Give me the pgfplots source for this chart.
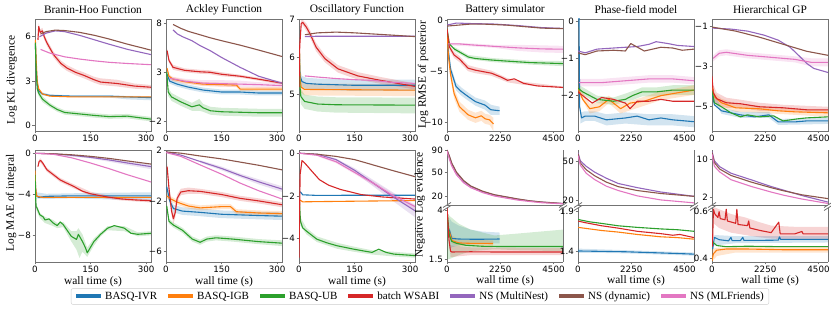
\documentclass[border=0pt]{standalone}
\usepackage{pgfplots}
\pgfplotsset{compat=1.18}
\usepackage{fontspec}
\setmainfont{Liberation Serif}
\newfontfamily\dejavu{DejaVu Sans}
\definecolor{cB}{HTML}{1F77B4}
\definecolor{cO}{HTML}{FF7F0E}
\definecolor{cG}{HTML}{2CA02C}
\definecolor{cR}{HTML}{D62728}
\definecolor{cP}{HTML}{9467BD}
\definecolor{cN}{HTML}{8C564B}
\definecolor{cK}{HTML}{E377C2}
\newcommand\lab{\fontsize{11.4}{13}\selectfont}
\pgfplotsset{
  base/.style={scale only axis, width=116pt, tick pos=left, tick align=outside,
    axis line style={draw=black!55, line width=0.8pt},
    major tick length=2.5pt,
    tick style={draw=black!55, line width=0.7pt},
    ticklabel style={font=\dejavu\fontsize{8.7}{10}\selectfont, text=black},
    xticklabel style={inner sep=1pt}, yticklabel style={inner sep=1.5pt},
    every axis plot/.append style={line width=1.1pt, line join=round},
    anchor=north west},
  tx/.style={xmin=0,xmax=313,xtick={0,150,300},xticklabels={0,150,300}},
  rx/.style={xmin=0,xmax=4900,xtick={0,2250,4500},xticklabels={0,2250,4500}},
  band/.style={fill=#1, fill opacity=0.2, draw=none},
  upper/.style={base, height=55pt, xtick=\empty, axis x line*=top, axis y line*=box, axis line style={-},
    y coord trafo/.code={\pgfmathparse{sqrt(##1)}}},
  lower/.style={base, height=54pt, rx, axis x line*=bottom, axis y line*=box, axis line style={-}},
}
\begin{document}
\begin{tikzpicture}
\path[use as bounding box] (0,0) rectangle (831pt,313pt);
% ---------- P1 Branin KL
\begin{axis}[base, tx, height=112pt, at={(35pt,294pt)}, ymin=-0.35, ymax=7.2, ytick={0,3,6}, yticklabels={0,3,6}]
\addplot[band=cB] coordinates {(1,5.7)(3,4.2)(6,2.95)(10,2.45)(20,2.25)(40,2.12)(100,2.05)(200,2.05)(250,2.02)(313,2.0)(313,1.72)(250,1.78)(200,1.9)(100,1.95)(40,1.97)(20,2.05)(10,2.25)(6,2.65)(3,3.8)(1,5.3)} -- cycle;
\addplot[band=cG] coordinates {(1,5.8)(3,4.0)(6,2.7)(10,2.4)(20,2.0)(40,1.55)(60,1.25)(80,1.05)(120,0.95)(160,0.85)(200,0.77)(250,0.8)(280,0.7)(313,0.6)(313,0.3)(280,0.4)(250,0.5)(200,0.47)(160,0.55)(120,0.65)(80,0.75)(60,0.95)(40,1.25)(20,1.6)(10,2.0)(6,2.3)(3,3.6)(1,5.4)} -- cycle;
\addplot[band=cR] coordinates {(8,6.0)(10,6.9)(14,6.5)(20,6.6)(25,6.2)(32,5.8)(50,5.0)(70,4.4)(86,4.1)(110,3.8)(132,3.6)(160,3.3)(177,3.2)(222,3.1)(268,2.85)(313,2.75)(313,2.45)(268,2.5)(222,2.65)(177,2.75)(160,2.9)(132,3.2)(110,3.4)(86,3.7)(70,4.0)(50,4.6)(32,5.4)(25,5.8)(20,6.2)(14,6.1)(10,6.5)(8,5.6)} -- cycle;
\addplot[cB] coordinates {(1,5.5)(3,4.0)(6,2.8)(10,2.35)(20,2.15)(40,2.05)(100,2.0)(200,2.0)(250,1.95)(313,1.9)};
\addplot[cO] coordinates {(1,5.8)(3,4.5)(6,3.0)(10,2.5)(20,2.15)(40,2.0)(100,1.95)(200,1.95)(313,1.95)};
\addplot[cG] coordinates {(1,5.6)(3,3.8)(6,2.5)(10,2.2)(20,1.8)(40,1.4)(60,1.1)(80,0.9)(120,0.8)(160,0.7)(200,0.62)(250,0.65)(280,0.55)(313,0.45)};
\addplot[cR] coordinates {(8,5.8)(10,6.7)(14,6.3)(20,6.4)(25,6.0)(32,5.6)(50,4.8)(70,4.2)(86,3.9)(110,3.6)(132,3.4)(160,3.1)(177,2.95)(222,2.85)(268,2.68)(313,2.6)};
\addplot[cP] coordinates {(12,6.0)(30,6.25)(55,6.4)(80,6.35)(120,6.1)(160,5.8)(200,5.5)(250,5.15)(313,4.8)};
\addplot[cN] coordinates {(15,6.2)(30,6.35)(55,6.45)(80,6.42)(120,6.3)(160,6.1)(200,5.85)(250,5.5)(313,5.1)};
\addplot[cK] coordinates {(15,5.15)(40,4.9)(80,4.65)(120,4.5)(160,4.38)(200,4.28)(250,4.2)(313,4.12)};
\end{axis}
% ---------- P2 Ackley KL
\begin{axis}[base, tx, height=112pt, at={(166pt,294pt)}, ymin=-2.95, ymax=8.4, ytick={-2,3,8}, yticklabels={−2,3,8}]
\addplot[band=cG] coordinates {(2,3.3)(6,1.4)(15,0.9)(40,0.4)(70,-0.1)(90,0.3)(100,-0.2)(120,-0.5)(150,-0.6)(200,-0.65)(250,-0.7)(313,-0.7)(313,-1.5)(250,-1.5)(200,-1.45)(150,-1.4)(120,-1.3)(100,-1.0)(90,-0.9)(70,-0.9)(40,-0.4)(15,0.1)(6,0.6)(2,2.7)} -- cycle;
\addplot[band=cK] coordinates {(10,2.6)(50,2.35)(100,2.2)(150,2.2)(200,2.15)(250,2.0)(313,1.9)(313,1.45)(250,1.45)(200,1.5)(150,1.55)(100,1.65)(50,1.9)(10,2.2)} -- cycle;
\addplot[band=cB] coordinates {(3,3.1)(10,2.35)(30,2.05)(60,1.75)(100,1.45)(150,1.25)(200,1.25)(250,1.15)(313,1.15)(313,0.65)(250,0.65)(200,0.75)(150,0.75)(100,0.95)(60,1.25)(30,1.55)(10,1.85)(3,2.5)} -- cycle;
\addplot[band=cO] coordinates {(3,3.6)(8,2.8)(19,2.5)(50,2.25)(100,2.0)(150,1.95)(190,1.95)(200,1.5)(250,1.5)(313,1.5)(313,1.1)(250,1.1)(200,1.1)(190,1.5)(150,1.55)(100,1.6)(50,1.85)(19,2.1)(8,2.4)(3,3.2)} -- cycle;
\addplot[band=cR] coordinates {(3,5.4)(8,4.4)(19,3.75)(50,3.4)(92,3.25)(119,3.2)(150,3.0)(200,2.75)(250,2.45)(313,2.05)(313,1.75)(250,2.15)(200,2.45)(150,2.6)(119,2.8)(92,2.85)(50,3.0)(19,3.25)(8,4.0)(3,5.0)} -- cycle;
\addplot[cB] coordinates {(3,2.8)(10,2.1)(30,1.8)(60,1.5)(100,1.2)(150,1.0)(200,1.0)(250,0.9)(313,0.9)};
\addplot[cO] coordinates {(3,3.4)(8,2.6)(19,2.3)(50,2.05)(100,1.8)(150,1.75)(190,1.7)(200,1.3)(250,1.3)(313,1.3)};
\addplot[cG] coordinates {(2,3.0)(6,1.0)(15,0.5)(40,0.0)(70,-0.5)(90,-0.3)(100,-0.6)(120,-0.9)(150,-1.0)(200,-1.05)(250,-1.1)(313,-1.1)};
\addplot[cR] coordinates {(3,5.2)(8,4.2)(19,3.5)(50,3.2)(92,3.05)(119,3.0)(150,2.8)(200,2.6)(250,2.3)(313,1.9)};
\addplot[cP] coordinates {(19,7.3)(30,6.9)(45,6.6)(70,6.2)(92,5.7)(119,5.2)(150,4.5)(200,3.5)(250,2.6)(313,1.9)};
\addplot[cN] coordinates {(19,7.85)(40,7.45)(60,7.15)(92,6.8)(119,6.5)(150,6.2)(200,5.75)(250,5.25)(313,4.6)};
\addplot[cK] coordinates {(10,2.4)(50,2.1)(100,1.9)(150,1.85)(200,1.8)(250,1.75)(313,1.65)};
\end{axis}
% ---------- P3 Oscillatory KL
\begin{axis}[base, tx, height=112pt, at={(299pt,294pt)}, ymin=4.03, ymax=7.02, ytick={5,6,7}, yticklabels={5,6,7}]
\addplot[band=cG] coordinates {(1,6.4)(2,5.5)(5,5.15)(15,5.0)(50,4.95)(100,4.93)(313,4.92)(313,4.5)(100,4.52)(50,4.55)(15,4.62)(5,4.75)(2,5.1)(1,6.2)} -- cycle;
\addplot[band=cO] coordinates {(1,6.3)(3,5.55)(6,5.35)(15,5.3)(313,5.28)(313,4.96)(15,4.98)(6,5.05)(3,5.25)(1,6.1)} -- cycle;
\addplot[band=cB] coordinates {(1,6.1)(3,5.65)(8,5.5)(20,5.45)(50,5.43)(150,5.4)(313,5.4)(313,5.1)(150,5.1)(50,5.13)(20,5.15)(8,5.2)(3,5.35)(1,5.9)} -- cycle;
\addplot[band=cR] coordinates {(2,6.4)(6,6.98)(10,7.0)(20,6.9)(30,6.72)(46,6.38)(70,6.06)(105,5.79)(159,5.6)(221,5.47)(313,5.3)(313,5.14)(221,5.29)(159,5.4)(105,5.59)(70,5.86)(46,6.16)(30,6.52)(20,6.7)(10,6.86)(6,6.82)(2,6.2)} -- cycle;
\addplot[cB] coordinates {(1,6.0)(3,5.5)(8,5.35)(20,5.3)(50,5.28)(150,5.25)(250,5.25)(313,5.25)};
\addplot[cO] coordinates {(1,6.2)(3,5.4)(6,5.2)(15,5.14)(313,5.12)};
\addplot[cG] coordinates {(1,6.3)(2,5.3)(5,4.95)(15,4.82)(50,4.75)(100,4.73)(313,4.72)};
\addplot[cR] coordinates {(0,5.2)(2,6.3)(6,6.9)(10,6.93)(20,6.8)(30,6.62)(46,6.27)(70,5.96)(105,5.69)(159,5.5)(221,5.38)(313,5.22)};
\addplot[cP] coordinates {(16,6.55)(50,6.56)(100,6.56)(200,6.56)(313,6.56)};
\addplot[cN] coordinates {(16,6.6)(50,6.65)(100,6.67)(150,6.65)(200,6.62)(250,6.59)(313,6.55)};
\addplot[cK] coordinates {(16,5.5)(50,5.47)(100,5.43)(150,5.4)(200,5.38)(250,5.33)(313,5.3)};
\end{axis}
% ---------- P4 Battery RMSE
\begin{axis}[base, rx, height=112pt, at={(447pt,294pt)}, ymin=-10.9, ymax=0.15, ytick={-10,-5,0}, yticklabels={−10,−5,0}]
\addplot[band=cB] coordinates {(60,-2.6)(150,-4.4)(380,-6.1)(600,-6.6)(890,-7.1)(1200,-7.6)(1610,-7.9)(1850,-8.3)(2020,-8.4)(2220,-8.5)(2220,-9.3)(2020,-9.3)(1850,-9.3)(1610,-8.8)(1200,-8.4)(890,-7.9)(600,-7.4)(380,-6.9)(150,-5.2)(60,-3.4)} -- cycle;
\addplot[band=cO] coordinates {(60,-3.1)(150,-4.8)(300,-6.7)(525,-8.0)(890,-8.8)(1200,-9.1)(1450,-8.9)(1610,-9.2)(1800,-9.3)(1960,-9.6)(1960,-10.9)(1800,-10.3)(1610,-10.2)(1450,-9.9)(1200,-10.1)(890,-9.8)(525,-9.0)(300,-7.7)(150,-5.8)(60,-3.9)} -- cycle;
\addplot[band=cR] coordinates {(100,-2.3)(300,-3.1)(525,-3.5)(890,-4.4)(1200,-4.6)(1880,-4.95)(2560,-5.7)(3240,-6.05)(4900,-6.5)(4900,-6.7)(3240,-6.35)(2560,-6.1)(1880,-5.45)(1200,-5.2)(890,-5.0)(525,-4.1)(300,-3.7)(100,-2.9)} -- cycle;
\addplot[band=cG] coordinates {(300,-2.6)(900,-3.4)(1900,-3.7)(3500,-3.95)(4900,-4.0)(4900,-4.5)(3500,-4.35)(1900,-4.1)(900,-3.8)(300,-3.0)} -- cycle;
\addplot[band=cK] coordinates {(50,-2.2)(1000,-2.25)(2000,-2.4)(3000,-2.4)(4000,-2.45)(4900,-2.5)(4900,-3.2)(4000,-3.15)(3000,-3.0)(2000,-2.7)(1000,-2.55)(50,-2.45)} -- cycle;
\addplot[cB] coordinates {(0,-0.8)(60,-3)(150,-4.8)(380,-6.5)(600,-7.0)(890,-7.5)(1200,-8.0)(1610,-8.35)(1850,-8.8)(2020,-8.85)(2220,-8.9)};
\addplot[cO] coordinates {(0,-0.8)(60,-3.5)(150,-5.3)(300,-7.2)(525,-8.5)(890,-9.3)(1200,-9.6)(1450,-9.4)(1610,-9.7)(1800,-9.8)(1960,-10.2)};
\addplot[cG] coordinates {(0,-0.8)(100,-2.3)(300,-2.8)(600,-3.2)(900,-3.6)(1200,-3.75)(1900,-3.9)(2500,-4.0)(3500,-4.15)(4900,-4.25)};
\addplot[cR] coordinates {(0,-0.8)(100,-2.6)(300,-3.4)(525,-3.8)(890,-4.7)(1200,-4.9)(1880,-5.2)(2300,-5.6)(2560,-5.9)(2840,-5.75)(3240,-6.2)(3800,-6.45)(4900,-6.6)};
\addplot[cP] coordinates {(0,-0.45)(400,-0.25)(1000,-0.3)(2000,-0.35)(3000,-0.5)(4000,-0.7)(4900,-0.78)};
\addplot[cN] coordinates {(0,-0.55)(500,-0.45)(1000,-0.35)(1500,-0.35)(2000,-0.4)(2500,-0.45)(3000,-0.55)(3500,-0.65)(4000,-0.75)(4900,-0.8)};
\addplot[cK] coordinates {(50,-2.3)(500,-2.3)(1000,-2.4)(2000,-2.55)(3000,-2.7)(4000,-2.8)(4900,-2.83)};
\end{axis}
% ---------- P5 Phase-field RMSE
\begin{axis}[base, rx, height=112pt, at={(578pt,294pt)}, ymin=-2.95, ymax=0.06, ytick={-2,-1,0}, yticklabels={−2,−1,0}]
\addplot[band=cB] coordinates {(100,-2.45)(300,-2.42)(700,-2.42)(1200,-2.5)(2000,-2.45)(3000,-2.5)(4000,-2.5)(4900,-2.55)(4900,-2.85)(4000,-2.8)(3000,-2.8)(2000,-2.75)(1200,-2.8)(700,-2.68)(300,-2.68)(100,-2.75)} -- cycle;
\addplot[band=cK] coordinates {(50,-1.55)(1000,-1.55)(2000,-1.5)(3000,-1.45)(4000,-1.45)(4900,-1.5)(4900,-1.7)(4000,-1.65)(3000,-1.65)(2000,-1.7)(1000,-1.75)(50,-1.75)} -- cycle;
\addplot[band=cG] coordinates {(0,-1.7)(800,-2.0)(1500,-2.05)(2300,-1.88)(2700,-1.78)(3300,-1.78)(4000,-1.72)(4900,-1.72)(4900,-1.98)(4000,-1.98)(3300,-2.02)(2700,-2.02)(2300,-2.12)(1500,-2.25)(800,-2.2)(0,-1.9)} -- cycle;
\addplot[band=cO] coordinates {(0,-1.7)(500,-2.22)(900,-2.18)(1300,-2.0)(1800,-2.22)(2800,-2.03)(3500,-1.88)(4900,-1.72)(4900,-1.98)(3500,-2.12)(2800,-2.27)(1800,-2.48)(1300,-2.2)(900,-2.42)(500,-2.48)(0,-1.9)} -- cycle;
\addplot[cB] coordinates {(0,0.2)(40,0.2)(70,-2.3)(150,-2.6)(300,-2.55)(700,-2.55)(1200,-2.65)(2000,-2.6)(2500,-2.55)(3000,-2.65)(3500,-2.6)(4000,-2.65)(4900,-2.7)};
\addplot[cO] coordinates {(0,-1.8)(200,-2.1)(500,-2.35)(900,-2.3)(1300,-2.1)(1800,-2.35)(2200,-2.2)(2800,-2.15)(3500,-2.0)(4900,-1.85)};
\addplot[cG] coordinates {(0,-1.8)(200,-1.9)(800,-2.1)(1500,-2.15)(2000,-2.1)(2300,-2.0)(2700,-1.9)(3300,-1.9)(4000,-1.85)(4900,-1.85)};
\addplot[cR] coordinates {(0,-1.9)(200,-2.0)(600,-2.2)(1000,-2.05)(1500,-2.1)(2000,-2.2)(2200,-2.35)(2500,-2.15)(3000,-2.15)(3500,-2.1)(4000,-2.15)(4900,-2.15)};
\addplot[cP] coordinates {(0,-0.8)(300,-0.85)(800,-0.75)(1500,-0.72)(2000,-0.7)(2500,-0.68)(3000,-0.62)(3300,-0.55)(3800,-0.6)(4200,-0.65)(4900,-0.68)};
\addplot[cN] coordinates {(0,-0.85)(300,-0.9)(800,-0.8)(1500,-0.78)(2000,-0.8)(2230,-0.6)(2800,-0.8)(3500,-0.7)(4000,-0.72)(4400,-0.78)(4900,-0.75)};
\addplot[cK] coordinates {(50,-1.65)(1000,-1.65)(2000,-1.6)(3000,-1.55)(4000,-1.55)(4900,-1.6)};
\end{axis}
% ---------- P6 Hierarchical RMSE
\begin{axis}[base, rx, height=112pt, at={(712pt,294pt)}, ymin=-6.2, ymax=-0.65, ytick={-5,-3,-1}, yticklabels={−5,−3,−1}]
\addplot[band=cK] coordinates {(50,-2.45)(300,-2.2)(600,-2.15)(1500,-2.3)(2500,-2.4)(3500,-2.5)(4200,-2.6)(4900,-2.6)(4900,-3.0)(4200,-3.0)(3500,-2.8)(2500,-2.7)(1500,-2.6)(600,-2.45)(300,-2.5)(50,-2.75)} -- cycle;
\addplot[band=cR] coordinates {(0,-3.0)(50,-3.9)(200,-4.3)(600,-4.55)(1200,-4.65)(2000,-4.8)(3000,-4.9)(4900,-5.0)(4900,-5.3)(3000,-5.2)(2000,-5.2)(1200,-5.05)(600,-5.05)(200,-4.9)(50,-4.7)(0,-4.0)} -- cycle;
\addplot[band=cO] coordinates {(0,-3.7)(100,-4.3)(400,-4.6)(1000,-4.85)(2000,-4.95)(3500,-5.1)(4900,-5.15)(4900,-5.5)(3500,-5.4)(2000,-5.3)(1000,-5.25)(400,-5.0)(100,-4.7)(0,-4.3)} -- cycle;
\addplot[band=cB] coordinates {(0,-4.1)(400,-5.05)(1200,-5.25)(2400,-5.25)(2800,-5.6)(4900,-5.55)(4900,-5.85)(2800,-5.9)(2400,-5.55)(1200,-5.55)(400,-5.35)(0,-4.5)} -- cycle;
\addplot[cB] coordinates {(0,-4.3)(100,-4.9)(400,-5.2)(800,-5.3)(1200,-5.4)(1800,-5.5)(2400,-5.4)(2800,-5.75)(3500,-5.75)(4000,-5.7)(4900,-5.7)};
\addplot[cO] coordinates {(0,-4.0)(100,-4.5)(400,-4.8)(1000,-5.05)(2000,-5.1)(2800,-5.2)(3500,-5.25)(4900,-5.3)};
\addplot[cG] coordinates {(0,-4.2)(100,-4.8)(400,-5.0)(800,-5.3)(1200,-5.5)(1500,-5.4)(2000,-5.5)(2600,-5.45)(3000,-5.7)(3600,-5.6)(4000,-5.55)(4900,-5.5)};
\addplot[cR] coordinates {(0,-3.5)(50,-4.3)(200,-4.6)(600,-4.8)(1200,-4.85)(2000,-5.0)(3000,-5.05)(4000,-5.15)(4900,-5.15)};
\addplot[cP] coordinates {(0,-1.1)(800,-1.15)(1500,-1.25)(2200,-1.45)(2800,-1.7)(3300,-2.05)(3700,-2.5)(4000,-2.85)(4300,-3.1)(4900,-3.3)};
\addplot[cN] coordinates {(0,-1.05)(1000,-1.25)(2000,-1.55)(3000,-1.9)(4000,-2.25)(4900,-2.45)};
\addplot[cK] coordinates {(50,-2.6)(300,-2.35)(600,-2.3)(1500,-2.45)(2500,-2.55)(3500,-2.65)(4200,-2.8)(4900,-2.8)};
\end{axis}
% ---------- P7 Branin MAE
\begin{axis}[base, tx, height=112pt, at={(35pt,163pt)}, ymin=-10.6, ymax=0.32, ytick={-8,-4,0}, yticklabels={−8,−4,0}]
\addplot[band=cG] coordinates {(0,-1.9)(3,-4.9)(13,-5.8)(27,-6.2)(49,-6.5)(60,-6.8)(76,-6.7)(98,-7.6)(112,-7.6)(117,-7.3)(128,-7.9)(141,-9.2)(159,-8.3)(177,-7.7)(196,-7.1)(241,-7.1)(277,-7.7)(313,-7.6)(313,-8.0)(277,-8.1)(241,-7.6)(196,-7.5)(177,-8.1)(159,-9.0)(141,-10.1)(128,-9.6)(120,-10.2)(112,-9.4)(98,-8.6)(76,-7.2)(60,-7.3)(49,-7.1)(27,-6.8)(13,-6.3)(3,-5.5)(0,-2.3)} -- cycle;
\addplot[band=cB] coordinates {(3,-3.8)(30,-3.95)(100,-3.9)(200,-3.85)(313,-3.8)(313,-4.6)(200,-4.5)(100,-4.4)(30,-4.45)(3,-4.4)} -- cycle;
\addplot[band=cR] coordinates {(11,-0.6)(15,-0.5)(32,-1.4)(68,-2.4)(103,-3.0)(150,-3.75)(196,-4.1)(232,-4.3)(313,-4.5)(313,-4.8)(232,-4.6)(196,-4.45)(150,-4.15)(103,-3.4)(68,-2.8)(32,-1.8)(15,-0.9)(11,-1.0)} -- cycle;
\addplot[band=cP] coordinates {(50,-0.05)(150,-0.3)(250,-0.8)(313,-1.1)(313,-1.55)(250,-1.15)(150,-0.5)(50,-0.15)} -- cycle;
\addplot[cB] coordinates {(1,-3)(3,-4.1)(10,-4.3)(30,-4.2)(100,-4.15)(200,-4.15)(313,-4.15)};
\addplot[cO] coordinates {(0,-1.7)(2,-3.5)(5,-4.2)(20,-4.3)(100,-4.3)(200,-4.3)(313,-4.3)};
\addplot[cG] coordinates {(0,-2.1)(2,-4.5)(3,-5.2)(5,-5.3)(13,-6.0)(22,-6.2)(27,-6.5)(38,-6.4)(49,-6.8)(60,-7.05)(68,-6.7)(76,-6.95)(98,-8.1)(112,-8.4)(117,-7.9)(128,-8.6)(136,-9.2)(141,-9.7)(146,-9.4)(159,-8.6)(177,-7.9)(196,-7.3)(214,-7.05)(241,-7.3)(259,-7.8)(277,-7.9)(313,-7.8)};
\addplot[cR] coordinates {(8,-1.3)(11,-0.8)(15,-0.7)(20,-0.9)(32,-1.6)(50,-2.1)(68,-2.6)(85,-2.9)(103,-3.2)(128,-3.7)(150,-3.95)(196,-4.27)(232,-4.45)(270,-4.55)(313,-4.63)};
\addplot[cP] coordinates {(0,0)(50,-0.05)(100,-0.2)(150,-0.4)(200,-0.65)(250,-0.95)(313,-1.3)};
\addplot[cN] coordinates {(0,0)(50,-0.05)(100,-0.15)(150,-0.3)(200,-0.5)(250,-0.75)(313,-1.05)};
\addplot[cK] coordinates {(0,0)(50,-0.1)(100,-0.45)(150,-0.95)(200,-1.5)(250,-2.1)(313,-2.8)};
\end{axis}
% ---------- P8 Ackley MAE
\begin{axis}[base, tx, height=112pt, at={(166pt,163pt)}, ymin=-6.8, ymax=2.0, ytick={-6,-2,2}, yticklabels={−6,−2,2}]
\addplot[band=cB] coordinates {(2,-0.6)(10,-1.7)(20,-2.3)(44,-2.5)(92,-2.6)(150,-2.75)(200,-2.8)(250,-2.85)(313,-2.9)(313,-3.5)(250,-3.45)(200,-3.4)(150,-3.35)(92,-3.2)(44,-3.1)(20,-2.9)(10,-2.3)(2,-1.2)} -- cycle;
\addplot[band=cO] coordinates {(2,-1.4)(10,-1.6)(30,-1.9)(60,-2.2)(92,-2.35)(150,-2.25)(174,-2.25)(190,-2.65)(250,-2.75)(313,-2.8)(313,-3.2)(250,-3.15)(190,-3.05)(174,-2.65)(150,-2.65)(92,-2.75)(60,-2.6)(30,-2.3)(10,-2.0)(2,-1.8)} -- cycle;
\addplot[band=cG] coordinates {(2,-2.2)(8,-3.4)(20,-3.7)(44,-4.1)(71,-4.8)(92,-5.05)(110,-4.8)(135,-4.7)(180,-4.8)(250,-5.0)(313,-5.1)(313,-5.55)(250,-5.4)(180,-5.2)(135,-5.1)(110,-5.2)(92,-5.45)(71,-5.2)(44,-4.5)(20,-4.1)(8,-3.8)(2,-2.6)} -- cycle;
\addplot[band=cR] coordinates {(3,1.0)(8,-0.7)(15,-2.5)(20,-3.0)(25,-2.5)(30,-1.5)(40,-1.05)(60,-0.95)(92,-1.05)(150,-1.3)(200,-1.6)(250,-1.8)(313,-2.1)(313,-2.5)(250,-2.2)(200,-2.0)(150,-1.7)(92,-1.45)(60,-1.45)(40,-1.55)(30,-2.1)(25,-3.3)(20,-3.8)(15,-3.1)(8,-1.3)(3,0.4)} -- cycle;
\addplot[band=cP] coordinates {(92,1.2)(150,0.7)(200,0.15)(250,-0.3)(313,-0.85)(313,-1.3)(250,-0.7)(200,-0.15)(150,0.4)(92,1.0)} -- cycle;
\addplot[cB] coordinates {(2,-0.9)(10,-2.0)(20,-2.6)(44,-2.8)(92,-2.9)(150,-3.05)(200,-3.1)(250,-3.15)(313,-3.2)};
\addplot[cO] coordinates {(2,-1.6)(10,-1.8)(30,-2.1)(60,-2.4)(92,-2.55)(150,-2.45)(174,-2.45)(190,-2.85)(250,-2.95)(313,-3.0)};
\addplot[cG] coordinates {(2,-2.4)(8,-3.6)(20,-3.9)(44,-4.3)(71,-5.0)(92,-5.25)(110,-5.0)(135,-4.9)(180,-5.0)(250,-5.2)(313,-5.32)};
\addplot[cR] coordinates {(3,0.7)(8,-1.0)(15,-2.8)(20,-3.4)(25,-2.9)(30,-1.8)(40,-1.3)(60,-1.2)(92,-1.25)(150,-1.5)(200,-1.8)(250,-2.0)(313,-2.3)};
\addplot[cP] coordinates {(0,1.85)(40,1.6)(92,1.1)(150,0.55)(200,0.0)(250,-0.5)(313,-1.07)};
\addplot[cN] coordinates {(0,1.85)(40,1.75)(92,1.53)(150,1.3)(200,1.05)(250,0.8)(313,0.44)};
\addplot[cK] coordinates {(0,1.8)(40,1.5)(92,0.83)(150,0.1)(200,-0.6)(250,-1.2)(313,-1.85)};
\end{axis}
% ---------- P9 Oscillatory MAE
\begin{axis}[base, tx, height=112pt, at={(299pt,163pt)}, ymin=-5.1, ymax=0.15, ytick={-4,-2,0}, yticklabels={−4,−2,0}]
\addplot[band=cP] coordinates {(50,-0.03)(100,-0.25)(150,-0.7)(200,-1.25)(250,-1.8)(313,-2.45)(313,-3.0)(250,-2.2)(200,-1.55)(150,-0.9)(100,-0.35)(50,-0.07)} -- cycle;
\addplot[band=cK] coordinates {(50,-0.05)(100,-0.33)(150,-0.82)(200,-1.3)(250,-1.85)(313,-2.4)(313,-2.65)(250,-2.05)(200,-1.5)(150,-0.98)(100,-0.47)(50,-0.15)} -- cycle;
\addplot[band=cG] coordinates {(4,-3.0)(20,-3.5)(48,-3.9)(103,-4.2)(148,-4.38)(197,-4.55)(256,-4.62)(313,-4.7)(313,-4.9)(256,-4.84)(197,-4.75)(148,-4.62)(103,-4.48)(48,-4.16)(20,-3.8)(4,-3.4)} -- cycle;
\addplot[cB] coordinates {(3,-1.8)(10,-1.95)(50,-1.98)(150,-1.97)(313,-1.97)};
\addplot[cO] coordinates {(3,-2.2)(10,-2.28)(50,-2.27)(150,-2.25)(313,-2.22)};
\addplot[cG] coordinates {(1,-2.2)(4,-3.2)(10,-3.5)(20,-3.65)(48,-4.03)(75,-4.2)(103,-4.34)(148,-4.5)(180,-4.6)(197,-4.65)(215,-4.5)(235,-4.65)(256,-4.73)(313,-4.8)};
\addplot[cR] coordinates {(0,-4.9)(3,-1.0)(8,-0.35)(12,-0.4)(20,-0.55)(35,-0.85)(55,-1.24)(80,-1.5)(112,-1.7)(168,-1.94)(224,-2.05)(270,-2.1)(313,-2.15)};
\addplot[cP] coordinates {(0,0)(50,-0.05)(100,-0.3)(150,-0.8)(200,-1.4)(250,-2.0)(313,-2.7)};
\addplot[cN] coordinates {(0,0)(50,-0.05)(100,-0.15)(150,-0.3)(200,-0.55)(250,-0.8)(313,-1.1)};
\addplot[cK] coordinates {(0,0)(50,-0.1)(100,-0.4)(150,-0.9)(200,-1.4)(250,-1.95)(313,-2.5)};
\end{axis}
% ---------- P10 Battery evidence
\begin{axis}[upper, at={(447pt,163pt)}, xmin=0, xmax=4900, ymin=12.2, ymax=90, ytick={20,50,90}, yticklabels={20,50,90}]
\addplot[cP] coordinates {(0,90)(100,77)(200,64)(400,49)(700,37)(1000,30.5)(1500,24.5)(2000,21)(2500,19)(3000,17)(3500,15.5)(4000,14.5)(4900,13.3)};
\addplot[cN] coordinates {(0,90)(100,78)(200,65)(400,50)(700,38)(1000,31)(1500,25)(2000,21.3)(2500,19.2)(3000,17.2)(3500,15.6)(4000,14.6)(4900,13.4)};
\addplot[cK] coordinates {(0,88)(100,72)(200,60)(400,46)(700,35)(1000,29)(1500,23.5)(2000,20)(2500,18)(3000,16.2)(3500,15)(4000,14)(4900,13.1)};
\end{axis}
\begin{axis}[lower, at={(447pt,105pt)}, ymin=1.35, ymax=4.1, ytick={1.5,4}, yticklabels={1.5,4}]
\addplot[band=cB] coordinates {(100,3.6)(200,3.4)(500,3.2)(1000,3.0)(1500,2.9)(2220,2.85)(2220,2.3)(1500,2.3)(1000,2.25)(500,2.2)(200,2.1)(100,2.0)} -- cycle;
\addplot[band=cG] coordinates {(0,3.9)(100,3.7)(200,3.6)(500,3.3)(1000,3.0)(2000,2.7)(3000,2.8)(4900,3.0)(4900,1.9)(3000,1.95)(2000,2.0)(1000,1.9)(500,1.7)(200,1.55)(100,1.5)(0,1.5)} -- cycle;
\addplot[band=cO] coordinates {(100,3.1)(200,2.7)(500,2.5)(1950,2.45)(1950,2.15)(500,2.17)(200,2.25)(100,2.7)} -- cycle;
\addplot[band=cR] coordinates {(0,4.1)(150,2.2)(1000,2.1)(4900,2.05)(4900,1.7)(1000,1.7)(150,1.6)(0,3.5)} -- cycle;
\addplot[cB] coordinates {(100,3.0)(200,2.55)(500,2.52)(1000,2.51)(1500,2.51)(2220,2.52)};
\addplot[cO] coordinates {(100,2.9)(200,2.45)(500,2.32)(1000,2.3)(1500,2.3)(1950,2.29)};
\addplot[cG] coordinates {(0,4.0)(100,2.7)(200,2.4)(400,2.3)(800,2.2)(1500,2.15)(2200,2.14)(4900,2.14)};
\addplot[cR] coordinates {(0,4.1)(30,3.6)(80,2.5)(150,1.9)(200,1.86)(1000,1.87)(2000,1.86)(3000,1.86)(4900,1.86)};
\end{axis}
% ---------- P11 Phase-field evidence
\begin{axis}[upper, at={(578pt,163pt)}, xmin=0, xmax=4900, ymin=17.1, ymax=60.8, ytick={20,50}, yticklabels={20,50}]
\addplot[cP] coordinates {(0,58)(100,50)(350,45)(700,40)(1200,35)(1700,31)(2500,28)(3500,25)(4900,22.2)};
\addplot[cN] coordinates {(0,57)(100,48)(350,42)(700,37)(1200,32)(1700,28.7)(2500,26)(3500,24)(4900,22.2)};
\addplot[cK] coordinates {(0,55)(100,46)(350,39)(700,34)(1200,29)(1700,26)(2500,22.5)(3500,20)(4900,18.3)};
\end{axis}
\begin{axis}[lower, at={(578pt,105pt)}, ymin=1.26, ymax=1.946, ytick={1.4,1.9}, yticklabels={1.4,1.9}]
\addplot[band=cB] coordinates {(0,1.43)(1000,1.42)(2000,1.41)(3000,1.4)(4000,1.39)(4900,1.38)(4900,1.34)(4000,1.35)(3000,1.36)(2000,1.37)(1000,1.375)(0,1.375)} -- cycle;
\addplot[cB] coordinates {(0,1.40)(1000,1.395)(2000,1.39)(3000,1.38)(4000,1.37)(4900,1.36)};
\addplot[cO] coordinates {(0,1.7)(500,1.68)(1000,1.66)(1700,1.64)(2500,1.61)(3500,1.58)(4200,1.57)(4900,1.55)};
\addplot[cG] coordinates {(0,1.8)(500,1.77)(1000,1.75)(1700,1.72)(2500,1.7)(3500,1.68)(4200,1.67)(4900,1.65)};
\addplot[cR] coordinates {(0,1.78)(300,1.76)(1000,1.72)(1700,1.69)(2500,1.65)(3500,1.62)(4000,1.6)(4300,1.61)(4900,1.57)};
\end{axis}
% ---------- P12 Hierarchical evidence
\begin{axis}[upper, at={(712pt,163pt)}, xmin=0, xmax=4900, ymin=1.1, ymax=12.8, ytick={2,10}, yticklabels={2,10}]
\addplot[cP] coordinates {(0,12.3)(100,9.5)(324,7.9)(800,6.3)(1670,4.85)(2500,3.6)(3020,3.0)(3800,2.2)(4900,1.4)};
\addplot[cN] coordinates {(0,12)(100,9)(324,7.3)(800,5.8)(1670,4.4)(2500,3.4)(3020,2.9)(3800,2.3)(4900,1.8)};
\addplot[cK] coordinates {(0,11.5)(100,8)(324,6.6)(800,4.9)(1670,3.6)(2500,2.7)(3020,2.25)(3800,1.75)(4900,1.25)};
\end{axis}
\begin{axis}[lower, at={(712pt,105pt)}, ymin=0.3845, ymax=0.6155, ytick={0.4,0.6}, yticklabels={0.4,0.6}]
\addplot[band=cR] coordinates {(60,0.62)(300,0.61)(800,0.59)(1400,0.575)(2000,0.555)(2500,0.54)(3500,0.535)(4900,0.535)(4900,0.48)(3500,0.48)(2500,0.485)(2000,0.49)(1400,0.5)(800,0.51)(300,0.53)(60,0.55)} -- cycle;
\addplot[band=cO] coordinates {(0,0.44)(200,0.445)(1000,0.45)(4900,0.45)(4900,0.425)(1000,0.425)(200,0.41)(0,0.385)} -- cycle;
\addplot[band=cB] coordinates {(100,0.5)(1000,0.495)(4900,0.495)(4900,0.468)(1000,0.465)(100,0.455)} -- cycle;
\addplot[cB] coordinates {(30,0.44)(100,0.49)(300,0.48)(700,0.475)(800,0.49)(850,0.476)(1200,0.476)(1300,0.49)(1350,0.477)(2000,0.477)(2800,0.478)(2850,0.492)(2900,0.481)(4900,0.481)};
\addplot[cO] coordinates {(0,0.39)(60,0.42)(200,0.435)(600,0.44)(1500,0.44)(3000,0.437)(4900,0.437)};
\addplot[cG] coordinates {(30,0.47)(200,0.455)(600,0.45)(1500,0.452)(3000,0.45)(4900,0.45)};
\addplot[cR] coordinates {(20,0.45)(60,0.61)(120,0.59)(250,0.575)(300,0.6)(350,0.57)(550,0.565)(600,0.61)(650,0.56)(1000,0.55)(1050,0.61)(1100,0.545)(1500,0.54)(1550,0.56)(1600,0.53)(2000,0.52)(2500,0.51)(2820,0.555)(2880,0.505)(3500,0.505)(3800,0.515)(3850,0.505)(4900,0.505)};
\end{axis}
% ---------- break marks
\foreach \x in {447,563,578,694,712,828}{
  \draw[black!55, line width=0.8pt] (\x pt-4pt,105.5pt) -- (\x pt+4pt,110.5pt);
  \draw[black!55, line width=0.8pt] (\x pt-4pt,102.5pt) -- (\x pt+4pt,107.5pt);
}
% ---------- titles
\node[font=\lab] at (93pt,303pt) {Branin-Hoo Function};
\node[font=\lab] at (224pt,303pt) {Ackley Function};
\node[font=\lab] at (357pt,303pt) {Oscillatory Function};
\node[font=\lab] at (505pt,303pt) {Battery simulator};
\node[font=\lab] at (636pt,303pt) {Phase-field model};
\node[font=\lab] at (770pt,303pt) {Hierarchical GP};
% ---------- y labels
\node[font=\lab, rotate=90] at (12pt,233pt) {Log KL divergence};
\node[font=\lab, rotate=90] at (11pt,110pt) {Log MAE of integral};
\node[font=\lab, rotate=90] at (423pt,238pt) {Log RMSE of posterior};
\node[font=\lab, rotate=90] at (420pt,108pt) {Negative Log evidence};
% ---------- x labels
\foreach \x in {93,224,357}{\node[font=\lab] at (\x pt,31.5pt) {wall time (s)};}
\foreach \x in {505,636,770}{\node[font=\lab] at (\x pt,32pt) {wall time (s)};}
% ---------- legend
\begin{axis}[hide axis, scale only axis, width=10pt, height=10pt, xmin=0, xmax=1, ymin=0, ymax=1,
  at={(420pt,16.5pt)}, anchor=center, legend columns=7,
  legend style={at={(0.5,0.5)}, anchor=center, draw=black!20, rounded corners=2pt,
    font=\fontsize{11}{13}\selectfont, inner ysep=1.5pt,
    /tikz/every even column/.append style={column sep=7pt}},
  legend image code/.code={\draw[#1, line width=4pt] (0pt,0pt) -- (25pt,0pt);}]
\addlegendimage{cB}\addlegendentry{BASQ-IVR}
\addlegendimage{cO}\addlegendentry{BASQ-IGB}
\addlegendimage{cG}\addlegendentry{BASQ-UB}
\addlegendimage{cR}\addlegendentry{batch WSABI}
\addlegendimage{cP}\addlegendentry{NS (MultiNest)}
\addlegendimage{cN}\addlegendentry{NS (dynamic)}
\addlegendimage{cK}\addlegendentry{NS (MLFriends)}
\end{axis}
\end{tikzpicture}
\end{document}
